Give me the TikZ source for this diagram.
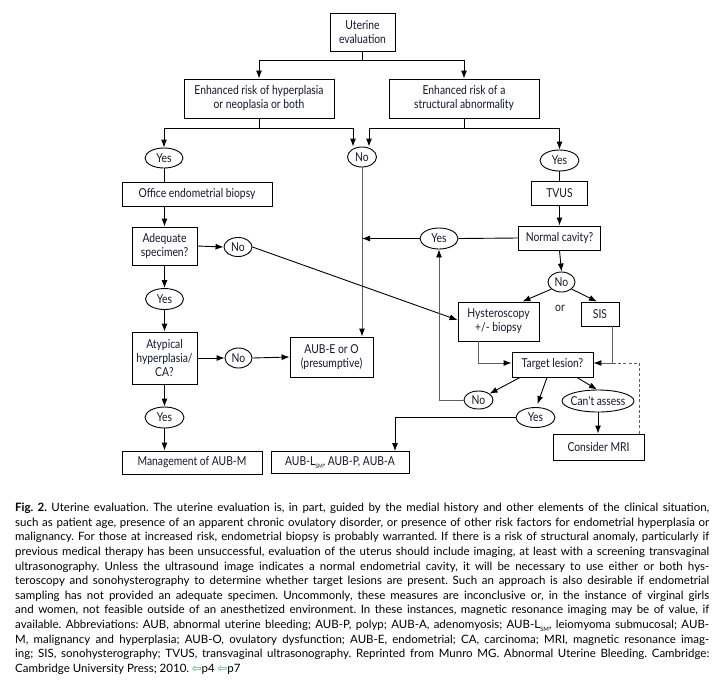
\documentclass[tikz,border=0pt]{standalone}
\usepackage{fontspec}
\setmainfont{Lato}
\newfontfamily\diagfont{Lato}[FakeStretch=0.84]
\newfontfamily\symfont{DejaVu Sans}
\usetikzlibrary{arrows.meta,calc,shapes.geometric}
\definecolor{txt}{RGB}{22,22,48}
\definecolor{lgray}{RGB}{95,95,95}
\definecolor{lnkgreen}{RGB}{50,175,95}
\newcommand{\ovtxt}[1]{\makebox[0pt]{#1}}
\newcommand{\subsm}{\raisebox{-0.45ex}{\fontsize{6}{6}\selectfont SM}}
\frenchspacing
\begin{document}
\begin{tikzpicture}[x=1pt,y=-1pt,
  dfont/.style={font=\diagfont\fontsize{12.3}{14}\selectfont,text=txt},
  box/.style={draw=black,line width=0.9pt,rectangle,inner sep=0pt,align=center,dfont},
  oval/.style={draw=black,line width=0.9pt,ellipse,inner sep=0pt,dfont},
  conn/.style={line width=0.9pt,draw=black},
  arr/.style={conn,-{Latex[length=8pt,width=6pt,color=black]}},
  gconn/.style={conn,draw=lgray},
  garr/.style={arr,draw=lgray},
  dconn/.style={conn,draw=lgray,dash pattern=on 3pt off 2.2pt}
]
\useasboundingbox (0,0) rectangle (727,686);
\fill[white] (0,0) rectangle (727,686);

% nodes
\node[box,minimum width=65,minimum height=38] (ue) at (362.5,32) {Uterine\\evaluation};
\node[box,minimum width=150,minimum height=39] (hyp) at (259,98.5) {Enhanced risk of hyperplasia\\or neoplasia or both};
\node[box,minimum width=150,minimum height=39] (str) at (464,98.5) {Enhanced risk of a\\structural abnormality};
\node[oval,minimum width=38,minimum height=20] (yes1) at (164,158) {\ovtxt{Yes}};
\node[oval,minimum width=29,minimum height=20] (no1) at (362,157) {\ovtxt{No}};
\node[box,minimum width=150,minimum height=24] (obx) at (197,194) {Office endometrial biopsy};
\node[box,minimum width=65,minimum height=38] (adq) at (164.5,246) {Adequate\\specimen?};
\node[oval,minimum width=28,minimum height=19] (no2) at (238,247) {\ovtxt{No}};
\node[oval,minimum width=38,minimum height=21] (yes2) at (164.5,299) {\ovtxt{Yes}};
\node[box,minimum width=65,minimum height=52] (aty) at (164.5,358) {Atypical\\hyperplasia/\\CA?};
\node[oval,minimum width=27,minimum height=20] (no3) at (238.5,358) {\ovtxt{No}};
\node[box,minimum width=83,minimum height=40] (aube) at (331.5,357) {AUB-E or O\\(presumptive)};
\node[oval,minimum width=39,minimum height=21] (yes3) at (164.5,417.5) {\ovtxt{Yes}};
\node[box,minimum width=140,minimum height=23] (mgmt) at (192,462.5) {Management of AUB-M};
\node[oval,minimum width=39,minimum height=21] (yes4) at (559.5,160.5) {\ovtxt{Yes}};
\node[box,minimum width=56,minimum height=24] (tvus) at (559.5,193) {TVUS};
\node[box,minimum width=82,minimum height=24] (norm) at (559.5,238) {Normal cavity?};
\node[oval,minimum width=38,minimum height=21] (yes5) at (439,238.5) {\ovtxt{Yes}};
\node[oval,minimum width=27,minimum height=20] (no4) at (561.5,282) {\ovtxt{No}};
\node[box,minimum width=81,minimum height=39] (hys) at (498.5,321.5) {Hysteroscopy\\+/- biopsy};
\node[dfont,inner sep=0pt] (or) at (560,308) {or};
\node[box,minimum width=38,minimum height=24] (sis) at (600,314) {SIS};
\node[box,minimum width=81,minimum height=25] (tgt) at (552.5,364.5) {Target lesion?};
\node[oval,minimum width=29,minimum height=18] (no5) at (478.5,400) {\ovtxt{No}};
\node[oval,minimum width=39,minimum height=20] (yes6) at (535.5,417.5) {\ovtxt{Yes}};
\node[oval,minimum width=72,minimum height=22] (cant) at (598,401) {\ovtxt{Can't assess}};
\node[box,minimum width=91,minimum height=26] (mri) at (598.5,447) {Consider MRI};
\node[box,minimum width=138,minimum height=22] (aubl) at (340,462.5) {AUB-L\subsm, AUB-P, AUB-A};

% connectors
\draw[arr] (ue.south) -- ++(0,9) -| (hyp.north);
\draw[arr] (ue.south) -- ++(0,9) -| (str.north);
\draw[arr] (hyp.south) -- ++(0,10) -| (yes1.north);
\draw[arr] (hyp.south) -- ++(0,10) -| ([xshift=-9pt]no1.north);
\draw[arr] (str.south) -- ++(0,10) -| ([xshift=7pt]no1.north);
\draw[arr] (str.south) -- ++(0,10) -| (yes4.north);
\draw[conn] (yes1.south) -- (yes1.south |- obx.north);
\draw[arr] (adq.north |- obx.south) -- (adq.north);
\draw[arr] (adq.east) -- (no2.west);
\draw[arr] (adq.south) -- (yes2.north);
\draw[arr] (yes2.south) -- (aty.north);
\draw[arr] (aty.east) -- (no3.west);
\draw[arr] (no3.east) -- (aube.west);
\draw[arr] (aty.south) -- (yes3.north);
\draw[arr] (yes3.south) -- (yes3.south |- mgmt.north);
\draw[garr] (no1.south) -- (no1.south |- aube.north);
\draw[conn] (yes4.south) -- (tvus.north);
\draw[arr] (tvus.south) -- (norm.north);
\draw[conn] (norm.west) -- (yes5.east);
\draw[arr] (yes5.west) -- (yes5.west -| no1.south);
\draw[arr] (norm.south) -- (no4.north);
\draw[arr] (no4.215) -- ([xshift=-17pt]hys.north east);
\draw[arr] (no4.325) -- ([xshift=-3pt]sis.north);
\draw[arr] (no2.east) -- ([yshift=1.5pt]hys.west);
\draw[garr] ([xshift=-20.5pt]hys.south) |- ([yshift=1.5pt]tgt.west);
\coordinate (tge) at ([yshift=1.5pt]tgt.east);
\coordinate (sisb) at ([xshift=12pt]sis.south);
\coordinate (sisc) at (sisb |- tge);
\draw[garr] (sisb) |- (tge);
\draw[dconn] ([xshift=40.5pt]mri.north) |- (sisc);
\draw[arr] ([xshift=-32.5pt]tgt.south) -- (no5.30);
\draw[arr] ([xshift=-5.5pt]tgt.south) -- ([xshift=2pt,yshift=3pt]yes6.north);
\draw[arr] ([xshift=24.5pt]tgt.south) -- ([xshift=-1pt]cant.north);
\draw[arr] (cant.south) -- (cant.south |- mri.north);
\draw[garr] (no5.west) -| (yes5.south);
\draw[arr] (yes6.west) -| ([xshift=55pt]aubl.north);

% caption
\node[anchor=north west,text width=694pt,align=justify,inner sep=0pt,
  font=\fontsize{11.5}{14.6}\selectfont,text=black] (cap) at (15,503) {%
\textbf{Fig. 2.} Uterine evaluation. The uterine evaluation is, in part, guided by the medial history and other elements of the clinical situation,\linebreak
such as patient age, presence of an apparent chronic ovulatory disorder, or presence of other risk factors for endometrial hyperplasia or\linebreak
malignancy. For those at increased risk, endometrial biopsy is probably warranted. If there is a risk of structural anomaly, particularly if\linebreak
previous medical therapy has been unsuccessful, evaluation of the uterus should include imaging, at least with a screening transvaginal\linebreak
ultrasonography. Unless the ultrasound image indicates a normal endometrial cavity, it will be necessary to use either or both hys-\linebreak
teroscopy and sonohysterography to determine whether target lesions are present. Such an approach is also desirable if endometrial\linebreak
sampling has not provided an adequate specimen. Uncommonly, these measures are inconclusive or, in the instance of virginal girls\linebreak
and women, not feasible outside of an anesthetized environment. In these instances, magnetic resonance imaging may be of value, if\linebreak
available. Abbreviations: AUB, abnormal uterine bleeding; AUB-P, polyp; AUB-A, adenomyosis; AUB-L\subsm, leiomyoma submucosal; AUB-\linebreak
M, malignancy and hyperplasia; AUB-O, ovulatory dysfunction; AUB-E, endometrial; CA, carcinoma; MRI, magnetic resonance imag-\linebreak
ing; SIS, sonohysterography; TVUS, transvaginal ultrasonography. Reprinted from Munro MG. Abnormal Uterine Bleeding. Cambridge:\linebreak
Cambridge University Press; 2010. {\color{lnkgreen}\symfont ⇦}p4 {\color{lnkgreen}\symfont ⇦}p7};
\end{tikzpicture}
\end{document}
